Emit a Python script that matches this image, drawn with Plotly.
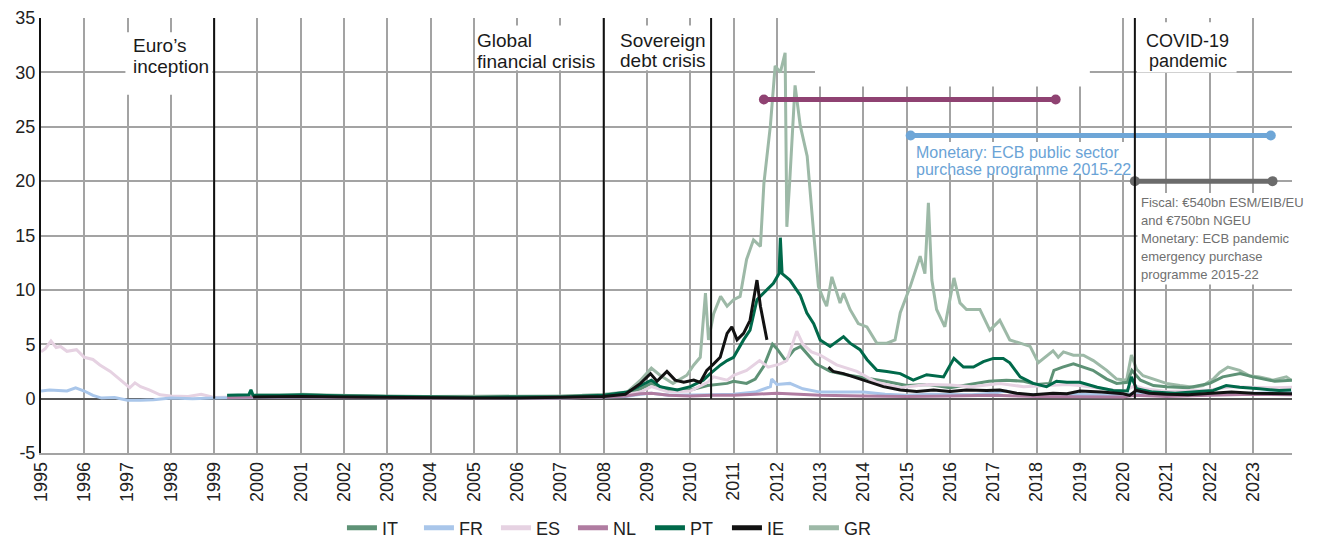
import plotly.graph_objects as go

# ---------------- data (decimal year, spread vs Germany, pp) ----------------
YEARS = list(range(1995, 2024))
X_RANGE = [1995, 2023.9]
Y_TICKS = [-5, 0, 5, 10, 15, 20, 25, 30, 35]
Y_TICK_LABELS = ["-5", "0", "5", "10", "15", "20", "25", "30", "35"]

IT = [(1999.3, 0.25), (2000, 0.3), (2001, 0.3), (2002, 0.25), (2003, 0.2), (2004, 0.15), (2005, 0.15),
      (2006, 0.2), (2007, 0.2), (2008, 0.3), (2008.5, 0.45), (2008.85, 0.9), (2009.1, 1.4), (2009.5, 0.8),
      (2010.0, 0.8), (2010.4, 1.2), (2010.85, 1.4), (2011.0, 1.6), (2011.3, 1.4), (2011.5, 1.8),
      (2011.7, 3.0), (2011.9, 5.0), (2012.0, 4.6), (2012.2, 3.5), (2012.4, 4.5), (2012.55, 4.8),
      (2012.75, 3.9), (2012.9, 3.2), (2013.0, 3.0), (2013.23, 2.5), (2013.6, 2.2), (2014.08, 1.9),
      (2014.5, 1.6), (2015.0, 1.2), (2015.5, 1.3), (2016.0, 1.0), (2016.5, 1.3), (2016.9, 1.6),
      (2017.3, 1.7), (2017.7, 1.6), (2018.0, 1.3), (2018.3, 1.4), (2018.4, 2.6), (2018.6, 2.9),
      (2018.85, 3.2), (2019.1, 2.9), (2019.3, 2.6), (2019.62, 1.8), (2019.85, 1.4), (2020.1, 1.5),
      (2020.2, 2.6), (2020.4, 1.7), (2020.7, 1.2), (2021.0, 1.1), (2021.5, 1.0), (2022.0, 1.4),
      (2022.3, 2.0), (2022.7, 2.3), (2023.0, 2.0), (2023.5, 1.6), (2023.9, 1.7)]

FR = [(1995.0, 0.7), (1995.2, 0.8), (1995.4, 0.75), (1995.6, 0.7), (1995.8, 1.0), (1996.0, 0.7),
      (1996.2, 0.3), (1996.4, 0.05), (1996.7, 0.1), (1997.0, -0.15), (1997.3, -0.15), (1997.6, -0.1),
      (1998.0, 0.05), (1998.5, 0.0), (1999.0, 0.05), (1999.5, 0.1), (2000, 0.1), (2001, 0.1),
      (2002, 0.1), (2003, 0.05), (2004, 0.05), (2005, 0.05), (2006, 0.05), (2007, 0.05), (2008, 0.15),
      (2008.5, 0.2), (2008.85, 0.4), (2009.1, 0.5), (2009.5, 0.3), (2010.0, 0.3), (2010.5, 0.35),
      (2011.0, 0.4), (2011.5, 0.6), (2011.85, 1.1), (2011.88, 1.8), (2012.0, 1.3), (2012.3, 1.4),
      (2012.6, 0.9), (2013.0, 0.6), (2013.5, 0.6), (2014.0, 0.6), (2014.5, 0.4), (2015.0, 0.3),
      (2015.5, 0.4), (2016.0, 0.35), (2016.5, 0.35), (2017.0, 0.5), (2017.3, 0.7), (2017.6, 0.4),
      (2018.0, 0.35), (2018.5, 0.4), (2019.0, 0.4), (2019.5, 0.35), (2020.0, 0.3), (2020.25, 0.5),
      (2020.5, 0.35), (2021.0, 0.3), (2021.5, 0.35), (2022.0, 0.4), (2022.5, 0.5), (2023.0, 0.55),
      (2023.5, 0.55), (2023.9, 0.55)]

ES = [(1995.0, 4.3), (1995.1, 4.6), (1995.23, 5.3), (1995.35, 4.7), (1995.45, 4.8), (1995.6, 4.35),
      (1995.82, 4.5), (1996.0, 3.8), (1996.2, 3.6), (1996.36, 3.1), (1996.6, 2.5), (1996.83, 1.75),
      (1997.05, 1.0), (1997.17, 1.45), (1997.3, 1.1), (1997.5, 0.8), (1997.75, 0.35), (1998.0, 0.25),
      (1998.4, 0.2), (1998.7, 0.4), (1999.0, 0.1), (1999.5, 0.15), (2000, 0.15), (2001, 0.2),
      (2002, 0.15), (2003, 0.1), (2004, 0.05), (2005, 0.05), (2006, 0.05), (2007, 0.1), (2008.0, 0.2),
      (2008.5, 0.35), (2008.85, 0.6), (2009.1, 1.1), (2009.5, 0.6), (2010.0, 0.7), (2010.4, 1.5),
      (2010.54, 2.0), (2010.85, 1.7), (2011.0, 2.15), (2011.3, 2.6), (2011.6, 3.5), (2011.8, 2.9),
      (2012.08, 3.2), (2012.23, 3.5), (2012.46, 6.2), (2012.6, 5.0), (2012.8, 4.3), (2013.0, 4.0),
      (2013.38, 3.1), (2013.85, 2.5), (2014.3, 1.5), (2014.85, 1.0), (2015.46, 1.3), (2016.0, 1.25),
      (2016.5, 1.1), (2017.15, 1.4), (2017.7, 1.1), (2018.38, 1.2), (2018.7, 1.3), (2019.0, 1.2),
      (2019.5, 0.9), (2020.0, 0.65), (2020.27, 1.2), (2020.5, 0.9), (2021.0, 0.65), (2021.5, 0.7),
      (2022.0, 0.8), (2022.5, 1.1), (2023.0, 1.05), (2023.5, 1.0), (2023.9, 1.05)]

NL = [(1999.3, 0.1), (2000, 0.15), (2001, 0.15), (2002, 0.1), (2003, 0.05), (2004, 0.05), (2005, 0.05),
      (2006, 0.05), (2007, 0.05), (2008, 0.15), (2008.5, 0.25), (2008.85, 0.45), (2009.1, 0.5),
      (2009.5, 0.3), (2010, 0.25), (2010.5, 0.3), (2011, 0.3), (2011.5, 0.4), (2012, 0.5), (2012.5, 0.4),
      (2013, 0.3), (2014, 0.25), (2015, 0.2), (2016, 0.25), (2017, 0.3), (2018, 0.2), (2019, 0.2),
      (2020, 0.15), (2020.25, 0.3), (2021, 0.2), (2022, 0.3), (2023, 0.4), (2023.9, 0.35)]

PT = [(1999.3, 0.3), (1999.8, 0.35), (1999.85, 0.8), (1999.9, 0.3), (2000.5, 0.3), (2001, 0.35),
      (2002, 0.25), (2003, 0.2), (2004, 0.15), (2005, 0.1), (2006, 0.15), (2007, 0.15), (2008, 0.3),
      (2008.54, 0.6), (2008.85, 1.2), (2009.1, 1.7), (2009.3, 1.1), (2009.7, 0.8), (2010.0, 1.1),
      (2010.3, 1.7), (2010.46, 2.3), (2010.7, 3.1), (2010.85, 3.5), (2011.0, 3.8), (2011.23, 5.4),
      (2011.38, 6.3), (2011.54, 9.1), (2011.7, 9.7), (2011.92, 10.6), (2012.05, 11.5), (2012.08, 14.8),
      (2012.12, 11.5), (2012.3, 10.9), (2012.54, 9.5), (2012.69, 7.9), (2012.85, 6.9), (2013.0, 5.4),
      (2013.23, 4.8), (2013.54, 5.7), (2013.69, 5.1), (2013.92, 4.5), (2014.08, 3.6), (2014.31, 2.6),
      (2014.54, 2.5), (2014.85, 2.3), (2015.15, 1.7), (2015.46, 2.2), (2015.85, 2.0), (2016.09, 3.7),
      (2016.31, 2.9), (2016.54, 2.9), (2016.77, 3.4), (2017.0, 3.7), (2017.23, 3.7), (2017.38, 3.3),
      (2017.62, 2.0), (2017.92, 1.4), (2018.23, 1.1), (2018.46, 1.6), (2018.7, 1.5), (2019.0, 1.5),
      (2019.4, 1.05), (2019.77, 0.75), (2020.1, 0.7), (2020.19, 2.0), (2020.31, 0.9), (2020.69, 0.6),
      (2021.2, 0.5), (2021.62, 0.6), (2022.08, 0.75), (2022.38, 1.2), (2022.69, 1.05), (2023.15, 0.9),
      (2023.6, 0.75), (2023.88, 0.8)]

IE = [(1999.9, 0.15), (2000.5, 0.2), (2001, 0.2), (2002, 0.15), (2003, 0.1), (2004, 0.05), (2005, 0.05),
      (2006, 0.05), (2007, 0.1), (2008, 0.2), (2008.5, 0.4), (2008.85, 1.4), (2009.08, 2.3),
      (2009.23, 1.6), (2009.46, 2.5), (2009.65, 1.7), (2009.85, 1.5), (2010.08, 1.7), (2010.23, 1.5),
      (2010.38, 2.6), (2010.54, 3.2), (2010.69, 3.8), (2010.85, 6.0), (2010.96, 6.6), (2011.08, 5.4),
      (2011.23, 6.0), (2011.38, 7.2), (2011.54, 10.9), (2011.62, 8.5), (2011.69, 6.9), (2011.77, 5.4),
      None,
      (2013.19, 2.9), (2013.3, 2.5), (2013.54, 2.3), (2013.85, 1.9), (2014.08, 1.6), (2014.46, 1.1),
      (2014.85, 0.8), (2015.23, 0.65), (2015.62, 0.8), (2016.0, 0.65), (2016.38, 0.8), (2016.85, 0.75),
      (2017.15, 0.8), (2017.54, 0.5), (2017.92, 0.35), (2018.38, 0.5), (2018.7, 0.45), (2019.0, 0.7),
      (2019.5, 0.6), (2020.0, 0.45), (2020.15, 0.3), (2020.3, 0.75), (2020.6, 0.5), (2021.0, 0.4),
      (2021.5, 0.35), (2022.0, 0.45), (2022.5, 0.6), (2023.0, 0.5), (2023.5, 0.45), (2023.9, 0.45)]

GR = [(2001.0, 0.4), (2002, 0.3), (2003, 0.2), (2004, 0.2), (2005, 0.2), (2006, 0.25), (2007, 0.25),
      (2007.5, 0.3), (2008.0, 0.4), (2008.54, 0.6), (2008.85, 1.7), (2009.1, 2.8), (2009.3, 2.15),
      (2009.6, 1.4), (2009.92, 2.15), (2010.08, 3.1), (2010.23, 3.8), (2010.35, 9.7), (2010.42, 5.4),
      (2010.54, 7.8), (2010.7, 9.4), (2010.85, 8.5), (2011.0, 9.1), (2011.15, 9.4), (2011.3, 12.8),
      (2011.46, 14.6), (2011.62, 14.0), (2011.7, 19.8), (2011.85, 25.1), (2011.96, 30.6),
      (2012.08, 30.0), (2012.19, 31.8), (2012.23, 15.8), (2012.3, 20.2), (2012.42, 28.8),
      (2012.54, 25.1), (2012.7, 22.3), (2012.85, 15.2), (2012.96, 10.3), (2013.08, 9.1), (2013.15, 8.5),
      (2013.27, 11.2), (2013.46, 8.8), (2013.54, 9.7), (2013.69, 8.2), (2013.88, 6.9), (2014.08, 6.6),
      (2014.31, 5.1), (2014.54, 5.1), (2014.73, 5.4), (2014.85, 7.9), (2015.08, 10.3), (2015.31, 13.1),
      (2015.42, 11.5), (2015.5, 18.0), (2015.58, 10.9), (2015.69, 8.2), (2015.88, 6.6), (2016.09, 11.1),
      (2016.23, 8.8), (2016.38, 8.2), (2016.69, 8.2), (2016.92, 6.3), (2017.15, 7.2), (2017.38, 5.4),
      (2017.62, 5.1), (2017.85, 4.8), (2018.04, 3.3), (2018.23, 3.9), (2018.38, 4.4), (2018.5, 3.8),
      (2018.62, 4.3), (2018.85, 4.0), (2019.08, 4.0), (2019.31, 3.5), (2019.62, 2.6), (2019.85, 1.8),
      (2020.08, 1.7), (2020.19, 4.0), (2020.31, 2.7), (2020.46, 2.1), (2020.69, 1.8), (2021.0, 1.4),
      (2021.31, 1.2), (2021.62, 1.05), (2021.85, 1.2), (2022.08, 1.8), (2022.23, 2.4), (2022.42, 2.9),
      (2022.69, 2.6), (2022.92, 2.1), (2023.15, 2.0), (2023.46, 1.7), (2023.77, 2.0), (2023.88, 1.7)]

SERIES_NAMES = ["IT", "FR", "ES", "NL", "PT", "IE", "GR"]
SERIES_DATA = {"IT": IT, "FR": FR, "ES": ES, "NL": NL, "PT": PT, "IE": IE, "GR": GR}
DRAW_ORDER = ["GR", "IT", "ES", "FR", "NL", "PT", "IE"]

# event lines (decimal year)
EVENTS = [1999.0, 2008.0, 2010.48, 2020.27]

# policy programmes: (start, end, level)
PROGRAMMES = [(2011.70, 2018.44, 27.5), (2015.09, 2023.41, 24.2), (2020.27, 2023.45, 20.0)]

# ---------------- styles ----------------
COLORS = {"IT": "#5e9276", "FR": "#a9c6ea", "ES": "#e6d2e2", "NL": "#b07ca1",
          "PT": "#00694a", "IE": "#121212", "GR": "#9db9a7"}
PROG_COLORS = ["#8f4272", "#6ea6d7", "#6b6b6b"]
FONT = "Liberation Sans, Arial, sans-serif"

fig = go.Figure()

for name in DRAW_ORDER:
    xs, ys = [], []
    for p in SERIES_DATA[name]:
        if p is None:
            xs.append(None); ys.append(None)
        else:
            xs.append(p[0]); ys.append(p[1])
    fig.add_trace(go.Scatter(x=xs, y=ys, mode="lines", connectgaps=False,
                             line=dict(color=COLORS[name], width=3),
                             showlegend=False, hoverinfo="skip"))

for (x0, x1, lvl), col in zip(PROGRAMMES, PROG_COLORS):
    fig.add_trace(go.Scatter(x=[x0, x1], y=[lvl, lvl], mode="lines+markers",
                             line=dict(color=col, width=5), marker=dict(color=col, size=10),
                             showlegend=False, hoverinfo="skip"))

for name in SERIES_NAMES:
    fig.add_trace(go.Scatter(x=[None], y=[None], mode="lines", name=name,
                             line=dict(color=COLORS[name], width=5), showlegend=True))

shapes = []
for ev in EVENTS:
    shapes.append(dict(type="line", xref="x", yref="y", x0=ev, x1=ev, y0=0, y1=35,
                       line=dict(color="#111111", width=2), layer="above"))

# white label backgrounds over grid
boxes = [
    (1996.95, 1998.96, 27.95, 33.7),
    (2005.06, 2007.97, 30.2, 34.3),
    (2008.03, 2010.44, 30.2, 34.3),
    (2012.88, 2019.23, 28.7, 35.0),
    (2020.32, 2022.62, 30.0, 34.6),
    (2015.12, 2020.22, 20.6, 23.6),
    (2020.33, 2023.9, 10.5, 18.9),
]
for x0, x1, y0, y1 in boxes:
    shapes.append(dict(type="rect", xref="x", yref="y", x0=x0, x1=x1, y0=y0, y1=y1,
                       fillcolor="white", line=dict(width=0), layer="between"))

annotations = []

def add_block(lines, x, y, size, color, spacing, xanchor="left"):
    for i, t in enumerate(lines):
        annotations.append(dict(text=t, x=x, y=y, xref="x", yref="y", xanchor=xanchor,
                                yanchor="middle", yshift=-i * spacing, showarrow=False,
                                font=dict(family=FONT, size=size, color=color),
                                borderpad=0, borderwidth=0, align=xanchor))

add_block(["Euro’s", "inception"], 1997.13, 32.45, 19, "#1a1a1a", 20.4)
add_block(["Global", "financial crisis"], 2005.07, 32.97, 19, "#1a1a1a", 21.0)
add_block(["Sovereign", "debt crisis"], 2008.37, 32.97, 19, "#1a1a1a", 20.0)
add_block(["COVID-19", "pandemic"], 2021.49, 32.93, 18, "#1a1a1a", 20.5, xanchor="center")
add_block(["Fiscal: ESM/EFSF €700bn of", "which €300bn used 2011-18.",
           "EU Monetary: ECB Draghi’s", "“whatever it takes” – 2012 –", "and OMT+ ESM"],
          2013.13, 35.33, 16, "#94457a", 17.9)
add_block(["Monetary: ECB public sector", "purchase programme 2015-22"],
          2015.21, 22.61, 16, "#6aa3d6", 16.7)
add_block(["Fiscal: €540bn ESM/EIB/EU", "and €750bn NGEU", "Monetary: ECB pandemic",
           "emergency purchase", "programme 2015-22"],
          2020.41, 18.01, 13, "#707070", 17.85)

fig.update_layout(
    width=1324, height=541,
    margin=dict(l=41, r=32, t=18, b=88, autoexpand=False),
    paper_bgcolor="white", plot_bgcolor="white",
    font=dict(family=FONT, size=18, color="#222222"),
    shapes=shapes, annotations=annotations,
    showlegend=True,
    legend=dict(orientation="h", x=0.456, xanchor="center", yref="container", y=0.024,
                yanchor="middle", font=dict(family=FONT, size=18, color="#222222"),
                bgcolor="rgba(0,0,0,0)", traceorder="normal", itemwidth=30,
                entrywidth=32, entrywidthmode="pixels"),
    xaxis=dict(range=X_RANGE, tickmode="array", tickvals=YEARS, ticktext=[str(y) for y in YEARS],
               tickangle=-90, showgrid=True, gridcolor="#a3a3a3", gridwidth=1.5,
               zeroline=False, showline=True, linecolor="#a3a3a3", linewidth=1.5,
               ticks="", tickfont=dict(size=18, color="#222222"), fixedrange=True, automargin=False),
    yaxis=dict(range=[-5, 35], tickmode="array", tickvals=Y_TICKS, ticktext=Y_TICK_LABELS,
               showgrid=True, gridcolor="#a3a3a3", gridwidth=1.5, zeroline=True,
               zerolinecolor="#555555", zerolinewidth=2, showline=True, linecolor="#111111",
               linewidth=2, ticks="", tickfont=dict(size=18, color="#222222"), fixedrange=True,
               automargin=False),
)

fig.write_html("out.html", config={"displayModeBar": False},
               post_script="document.body.style.margin='0';")
